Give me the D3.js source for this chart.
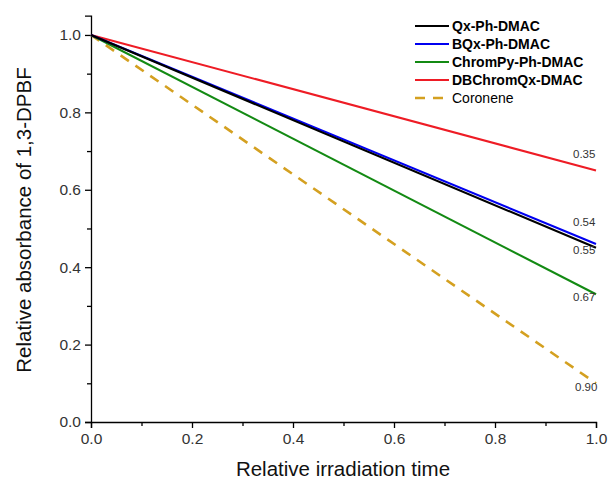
<!DOCTYPE html>
<html><head><meta charset="utf-8">
<script src="https://cdn.jsdelivr.net/npm/d3@7"></script>
<style>body{margin:0;background:#fff}svg{display:block}</style>
</head><body><svg id="c" width="611" height="484"></svg>
<script>
const seriesNames = ["Qx-Ph-DMAC","BQx-Ph-DMAC","ChromPy-Ph-DMAC","DBChromQx-DMAC","Coronene"];
const xValues = [0, 1];
const qxValues = [1.0, 0.45];
const bqxValues = [1.0, 0.46];
const chromPyValues = [1.0, 0.33];
const dbChromQxValues = [1.0, 0.65];
const coroneneValues = [1.0, 0.10];
const annotationLabels = ["0.55","0.54","0.67","0.35","0.90"];
const xTicks = [0,0.2,0.4,0.6,0.8,1.0];
const yTicks = [0,0.2,0.4,0.6,0.8,1.0];

const colors = ["#000000","#0000f0","#138a13","#ee1c25","#d4a020"];
const allValues = [qxValues,bqxValues,chromPyValues,dbChromQxValues,coroneneValues];
const svg = d3.select("#c");
const x = d3.scaleLinear().domain([0,1]).range([91,596]);
const y = d3.scaleLinear().domain([0,1.05]).range([422,15.6]);
const font = "Arial, 'Liberation Sans', sans-serif";

// axes
svg.append("g").attr("transform","translate(0,422)")
  .call(d3.axisBottom(x).tickValues(xTicks).tickFormat(d3.format(".1f")).tickSizeOuter(0).tickSize(6).tickPadding(5));
svg.append("g").attr("transform","translate(0,422)")
  .call(d3.axisBottom(x).tickValues(d3.range(0.1,1,0.2)).tickFormat("").tickSizeOuter(0).tickSize(4))
  .select(".domain").remove();
svg.append("g").attr("transform","translate(91,0)")
  .call(d3.axisLeft(y).tickValues(yTicks).tickFormat(d3.format(".1f")).tickSizeOuter(0).tickSize(6).tickPadding(4));
svg.append("g").attr("transform","translate(91,0)")
  .call(d3.axisLeft(y).tickValues(d3.range(0.1,1.0,0.2)).tickFormat("").tickSizeOuter(0).tickSize(4))
  .select(".domain").remove();
svg.selectAll(".domain").attr("stroke","#000").attr("stroke-width",1.3);
svg.selectAll(".tick line").attr("stroke","#000").attr("stroke-width",1.3);
svg.selectAll(".tick text").attr("font-family",font).attr("font-size",15.5).attr("fill","#333");

// lines
const line = d3.line().x((d,i)=>x(xValues[i])).y(d=>y(d));
const order = [4,2,3,1,0];
order.forEach(i=>{
  svg.append("path").datum(allValues[i]).attr("d",line).attr("fill","none")
    .attr("stroke",colors[i]).attr("stroke-width",i===4?2.6:2.1)
    .attr("stroke-dasharray",i===4?"10,8":null);
});

// annotations
const annX = [573,573,573,573,575];
const annY = [254,226,301,158,391];
annotationLabels.forEach((t,i)=>{
  svg.append("text").attr("x",annX[i]).attr("y",annY[i]).text(t)
    .attr("font-family",font).attr("font-size",11.5).attr("fill","#333");
});

// legend
seriesNames.forEach((n,i)=>{
  const yy = 26 + 18*i;
  svg.append("line").attr("x1",415).attr("x2",449).attr("y1",yy).attr("y2",yy)
    .attr("stroke",colors[i]).attr("stroke-width",i===4?2.6:2.1)
    .attr("stroke-dasharray",i===4?"10,8":null);
  svg.append("text").attr("x",452).attr("y",yy+5).text(n)
    .attr("font-family",font).attr("font-size",14)
    .attr("font-weight",i===4?"normal":"bold").attr("fill","#000");
});

// axis titles
svg.append("text").attr("x",343).attr("y",476).attr("text-anchor","middle")
  .attr("font-family",font).attr("font-size",20.5).attr("fill","#111").text("Relative irradiation time");
svg.append("text").attr("transform","translate(31,220) rotate(-90)").attr("text-anchor","middle")
  .attr("font-family",font).attr("font-size",20.5).attr("fill","#111").text("Relative absorbance of 1,3-DPBF");
</script></body></html>
